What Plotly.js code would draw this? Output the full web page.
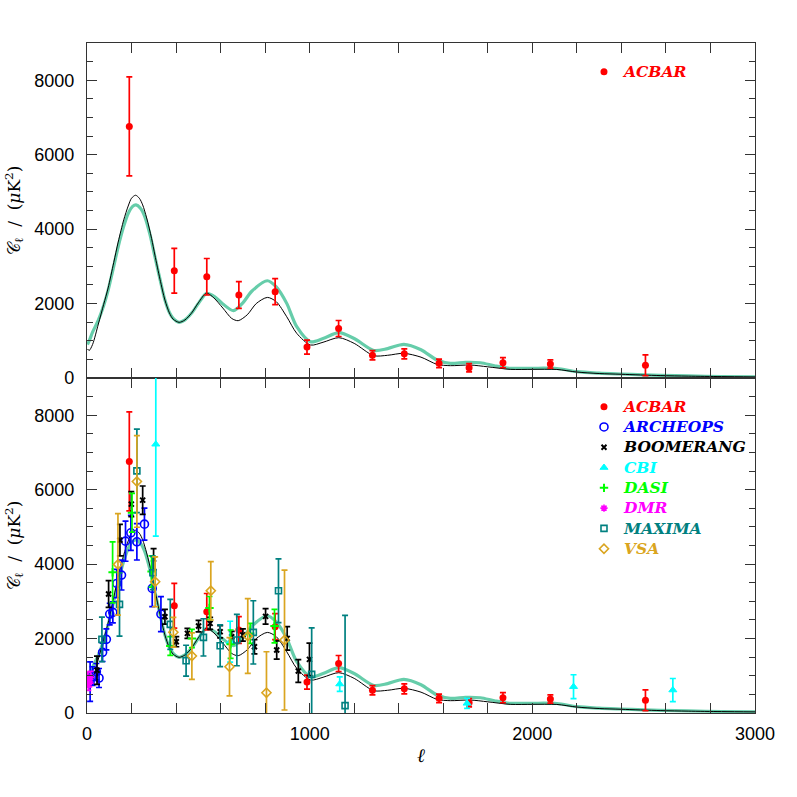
<!DOCTYPE html>
<html>
<head>
<meta charset="utf-8">
<script src="https://cdn.plot.ly/plotly-3.0.1.min.js"></script>
<style>
html,body{margin:0;padding:0;background:#fff;}
#chart{width:797px;height:797px;}
</style>
</head>
<body>
<div id="chart"></div>
<script>
// ---- theory curves ----
var modelL = [2, 10, 25, 51, 75, 95, 120, 140, 165, 185, 205, 220, 240, 260, 283, 305, 328, 350, 370, 387, 414, 440, 469, 500, 537, 574, 610, 658, 700, 740, 810, 850, 897, 942, 1004, 1060, 1131, 1200, 1288, 1350, 1423, 1500, 1572, 1632, 1700, 1767, 1830, 1901, 2000, 2110, 2200, 2300, 2395, 2500, 2574, 2700, 2850, 3000];
var modelC = [900, 1000, 1230, 1557, 1950, 2362, 3000, 3525, 4080, 4420, 4610, 4650, 4560, 4330, 3850, 3257, 2650, 2094, 1760, 1602, 1495, 1560, 1737, 2000, 2273, 2183, 1990, 1808, 2020, 2330, 2613, 2450, 2005, 1378, 975, 1060, 1217, 1060, 740, 790, 904, 760, 483, 394, 421, 410, 330, 260, 262, 255, 170, 130, 107, 85, 72, 55, 40, 30];

var blackL = [2, 10, 25, 51, 75, 95, 120, 140, 165, 185, 200, 218, 235, 250, 268, 290, 305, 328, 350, 370, 387, 414, 440, 469, 500, 537, 570, 610, 650, 679, 720, 760, 810, 850, 897, 942, 1004, 1060, 1131, 1200, 1288, 1350, 1423, 1500, 1572, 1632, 1720, 1800, 1901, 2000, 2110, 2200, 2300, 2400, 2574, 2700, 2850, 3000];
var blackC = [780, 740, 900, 1450, 1980, 2420, 3100, 3650, 4250, 4620, 4830, 4910, 4830, 4650, 4300, 3750, 3300, 2650, 2094, 1750, 1580, 1495, 1560, 1740, 2020, 2280, 2150, 1880, 1600, 1540, 1700, 2000, 2165, 2050, 1646, 1199, 886, 960, 1083, 930, 600, 610, 663, 560, 367, 331, 349, 300, 233, 233, 230, 160, 120, 100, 65, 50, 38, 30];

// ---- data sets ----
var acbarL = [190, 392, 538, 682, 845, 988, 1130, 1282, 1425, 1581, 1716, 1868, 2081, 2508];
var acbarC = [6760, 2880, 2720, 2230, 2320, 830, 1330, 610, 650, 394, 277, 411, 376, 340];
var acbarE = [1330, 600, 490, 360, 350, 190, 215, 125, 135, 115, 110, 135, 110, 280];

var archeopsL = [14, 25, 42, 54, 70, 87, 102, 116, 134, 155, 173, 197, 224, 258, 293, 332];
var archeopsC = [841, 993, 1110, 940, 1629, 1978, 2658, 2703, 3481, 3705, 4617, 4841, 4600, 5074, 3347, 2658];
var archeopsE = [530, 250, 220, 255, 245, 280, 290, 280, 380, 400, 540, 470, 490, 430, 490, 470];

var boomL = [45, 97, 148, 199, 250, 299, 350, 401, 451, 501, 553, 598, 650, 700, 752, 802, 852, 899, 949, 999];
var boomC = [1150, 3195, 4644, 5611, 5718, 4134, 2586, 1915, 2139, 2336, 2407, 2183, 2049, 2094, 1781, 2595, 1691, 2004, 1128, 1441];
var boomE = [380, 360, 425, 335, 380, 280, 200, 135, 135, 155, 160, 165, 145, 165, 190, 210, 245, 315, 305, 435];

var cbiL = [309, 643, 1135, 1707, 2185, 2631];
var cbiC = [7221, 1915, 778, 260, 707, 617];
var cbiE = [2470, 550, 195, 135, 320, 310];

var dasiL = [115, 202, 290, 374, 471, 550, 645, 733, 842];
var dasiC = [3780, 5380, 3800, 1800, 2004, 2820, 1850, 2139, 2336];
var dasiE = [820, 520, 420, 250, 245, 310, 380, 270, 450];

var dmrL = [3, 6, 10, 16];
var dmrC = [900, 760, 850, 960];
var dmrE = [200, 150, 150, 160];

var maximaL = [67, 146, 224, 296, 374, 445, 523, 598, 673, 747, 860, 1009, 1159];
var maximaC = [1978, 2917, 6505, 3767, 2380, 1405, 2032, 1808, 1960, 2166, 3284, 1038, 197];
var maximaE = [600, 850, 1120, 450, 670, 415, 500, 560, 690, 850, 855, 1250, 2425];

var vsaL = [139, 224, 306, 388, 471, 556, 640, 722, 806, 887];
var vsaC = [3992, 6220, 3525, 2170, 1530, 3284, 1243, 2067, 545, 1960];
var vsaE = [1365, 1230, 670, 400, 625, 785, 783, 1005, 1100, 1880];

var tealColor = '#66CDAA';

function curves(xa, ya) {
  return [
    {x: modelL, y: modelC, xaxis: xa, yaxis: ya, mode: 'lines', showlegend: false, hoverinfo: 'skip',
     line: {color: tealColor, width: 3.2, shape: 'spline', smoothing: 0.8}},
    {x: blackL, y: blackC, xaxis: xa, yaxis: ya, mode: 'lines', showlegend: false, hoverinfo: 'skip',
     line: {color: '#000000', width: 1, shape: 'spline', smoothing: 0.8}}
  ];
}

function dataset(name, L, C, E, color, symbol, size, lw, xa, ya, legend) {
  return {
    x: L, y: C, xaxis: xa, yaxis: ya, mode: 'markers', legend: legend,
    name: '<span style="color:' + color + ';font-size:15.5px"><b><i>' + name + '</i></b></span>',
    marker: {color: color, symbol: symbol, size: size, line: {color: color, width: lw}},
    error_y: {type: 'data', array: E, visible: true, color: color, thickness: 1.7, width: 3},
    cliponaxis: true
  };
}

var traces = [];
traces = traces.concat(curves('x', 'y'));
traces.push(dataset('ACBAR', acbarL, acbarC, acbarE, '#FF0000', 'circle', 7, 0, 'x', 'y', 'legend'));
traces = traces.concat(curves('x2', 'y2'));
traces.push(dataset('ACBAR', acbarL, acbarC, acbarE, '#FF0000', 'circle', 7, 0, 'x2', 'y2', 'legend2'));
traces.push(dataset('ARCHEOPS', archeopsL, archeopsC, archeopsE, '#0000FF', 'circle-open', 8, 1.6, 'x2', 'y2', 'legend2'));
traces.push(dataset('BOOMERANG', boomL, boomC, boomE, '#000000', 'x-thin-open', 5, 2, 'x2', 'y2', 'legend2'));
traces.push(dataset('CBI', cbiL, cbiC, cbiE, '#00FFFF', 'triangle-up', 7, 1, 'x2', 'y2', 'legend2'));
traces.push(dataset('DASI', dasiL, dasiC, dasiE, '#00FF00', 'cross-thin-open', 6, 2, 'x2', 'y2', 'legend2'));
traces.push(dataset('DMR', dmrL, dmrC, dmrE, '#FF00FF', 'asterisk-open', 6, 1.6, 'x2', 'y2', 'legend2'));
traces.push(dataset('MAXIMA', maximaL, maximaC, maximaE, '#008080', 'square-open', 6, 1.6, 'x2', 'y2', 'legend2'));
traces.push(dataset('VSA', vsaL, vsaC, vsaE, '#DAA520', 'diamond-open', 7, 1.6, 'x2', 'y2', 'legend2'));

var lineCol = '#333333';
var tickFont = {family: 'Liberation Sans, Arial, sans-serif', size: 18, color: '#000'};
var yTitle = '𝒞<sub>ℓ</sub>  /  (<i>μ</i>K<sup>2</sup>)';

function xAxis(anchor, labels) {
  var a = {
    anchor: anchor, domain: [0, 1], range: [0, 3000], showgrid: false, zeroline: false,
    showline: true, linecolor: lineCol, linewidth: 1.2, mirror: 'ticks',
    ticks: 'inside', ticklen: 10, tickwidth: 1, tickcolor: lineCol, dtick: 1000, tick0: 0,
    minor: {dtick: 200, tick0: 0, ticks: 'inside', ticklen: 10, tickwidth: 1, tickcolor: lineCol, showgrid: false},
    showticklabels: labels, tickfont: tickFont, ticklabelstandoff: 4
  };
  if (labels) {
    a.title = {text: '<i>ℓ</i>', font: {family: 'DejaVu Serif', size: 19, color: '#000'}, standoff: 6};
  }
  return a;
}
function yAxis(anchor, domain) {
  return {
    anchor: anchor, domain: domain, range: [0, 9000], showgrid: false, zeroline: false,
    showline: true, linecolor: lineCol, linewidth: 1.2, mirror: 'ticks',
    ticks: 'inside', ticklen: 10, tickwidth: 1, tickcolor: lineCol, dtick: 2000, tick0: 0,
    minor: {dtick: 500, tick0: 0, ticks: 'inside', ticklen: 6, tickwidth: 1, tickcolor: lineCol, showgrid: false},
    tickfont: tickFont, ticklabelstandoff: 8,
    title: {text: yTitle, font: {family: 'DejaVu Serif', size: 17, color: '#000'}, standoff: 9}
  };
}

var layout = {
  width: 797, height: 797,
  margin: {l: 87, r: 42, t: 43, b: 84, pad: 0},
  paper_bgcolor: '#ffffff', plot_bgcolor: '#ffffff',
  showlegend: true, hovermode: false,
  xaxis: xAxis('y', false),
  yaxis: yAxis('x', [0.5, 1]),
  xaxis2: xAxis('y2', true),
  yaxis2: yAxis('x2', [0, 0.5]),
  legend: {x: 0.744, y: 0.9567, xanchor: 'left', yanchor: 'middle', bgcolor: 'rgba(0,0,0,0)',
           font: {family: 'DejaVu Serif', size: 13.3, color: '#000'}},
  legend2: {x: 0.744, y: 0.3507, xanchor: 'left', yanchor: 'middle', bgcolor: 'rgba(0,0,0,0)',
            font: {family: 'DejaVu Serif', size: 13.3, color: '#000'}, tracegroupgap: 0}
};

Plotly.newPlot('chart', traces, layout, {staticPlot: true, displayModeBar: false});
</script>
</body>
</html>
